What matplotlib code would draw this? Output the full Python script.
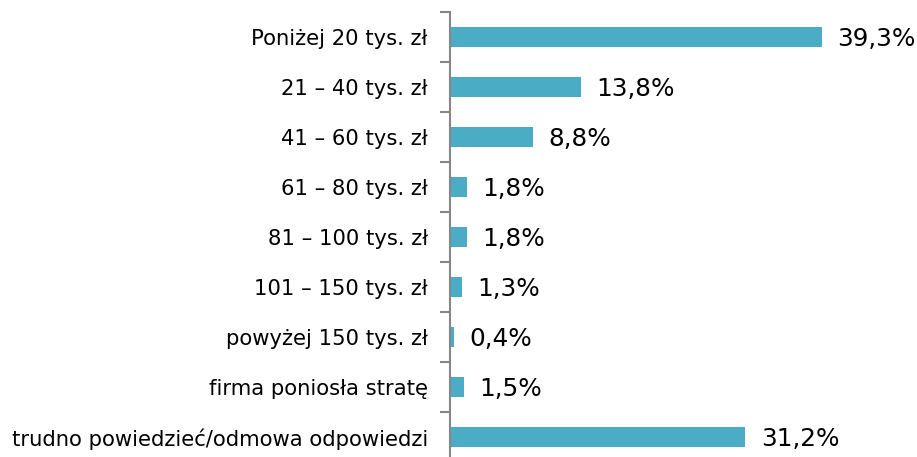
import numpy as np
import matplotlib.pyplot as plt

categories = ["Poniżej 20 tys. zł", "21 – 40 tys. zł", "41 – 60 tys. zł",
              "61 – 80 tys. zł", "81 – 100 tys. zł", "101 – 150 tys. zł",
              "powyżej 150 tys. zł", "firma poniosła stratę",
              "trudno powiedzieć/odmowa odpowiedzi"]
values = [39.3, 13.8, 8.8, 1.8, 1.8, 1.3, 0.4, 1.5, 31.2]
labels = ["39,3%", "13,8%", "8,8%", "1,8%", "1,8%", "1,3%", "0,4%", "1,5%", "31,2%"]

fig = plt.figure(figsize=(9.17, 4.57), dpi=100)
ax = fig.add_axes([450/917, -5/457, 426/917, 450/457])

y = np.arange(len(categories))
ax.barh(y, values, height=0.4, color="#4BACC6")
ax.set_ylim(len(categories) - 0.5, -0.5)
ax.set_xlim(0, 45)

for yi, v, lab in zip(y, values, labels):
    ax.annotate(lab, (v, yi), xytext=(11, -1.5), textcoords="offset points",
                va="center", ha="left", fontsize=17.8, color="black")

ax.set_yticks(y)
ax.set_yticklabels(categories, fontsize=15.2)
ax.tick_params(axis="y", which="major", length=0, pad=16)
ax.set_yticks(np.arange(len(categories) + 1) - 0.5, minor=True)
ax.tick_params(axis="y", which="minor", length=7, width=1.5, color="#868686")
ax.set_xticks([])

for s in ["top", "right", "bottom"]:
    ax.spines[s].set_visible(False)
ax.spines["left"].set_color("#868686")
ax.spines["left"].set_linewidth(1.5)

fig.savefig("out.png", dpi=100)
